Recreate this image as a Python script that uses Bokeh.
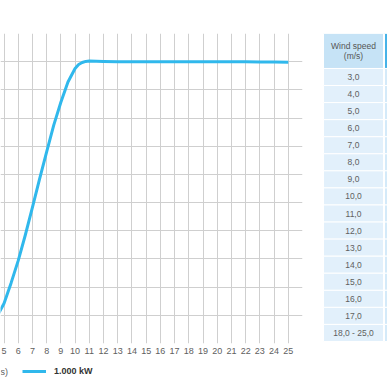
from bokeh.plotting import figure
from bokeh.models import Range1d, FixedTicker, Legend, LegendItem, ColumnDataSource, Label
from bokeh.layouts import row, column
from bokeh.embed import file_html
from bokeh.resources import INLINE
from bokeh.core.properties import value

# ---- data ----
wind = [3, 4, 4.5, 5, 5.5, 6, 6.5, 7, 7.5, 8, 8.5, 9, 9.5, 10, 10.25, 10.5, 10.75, 11,
        12, 13, 14, 15, 16, 17, 18, 19, 20, 21, 22, 23, 24, 25]
power = [0, 45, 95, 142, 215, 294, 385, 483, 583, 680, 775, 856, 928, 976, 990, 997, 1001, 1002,
         1001, 1000, 1000, 1000, 1000, 1000, 1000, 1000, 1000, 1000, 1000, 999, 999, 998]
x_ticks = list(range(5, 26))
x_grid = list(range(5, 27))
y_grid = list(range(0, 1101, 100))
series_label = "1.000 kW"
axis_tail = "s)"
table_header = "Wind speed\n(m/s)"
table_rows = ["3,0", "4,0", "5,0", "6,0", "7,0", "8,0", "9,0", "10,0", "11,0",
              "12,0", "13,0", "14,0", "15,0", "16,0", "17,0", "18,0 - 25,0"]

W = 387
H_TOP = 362          # chart + table block
H_LEG = W - H_TOP    # legend strip
LINE = "#30b8ec"
GRID = "#cfcfcf"
TOP, BOTTOM = 33, 19
FONT = "Liberation Sans"

# ---- power curve chart ----
p = figure(width=312, height=H_TOP, x_range=Range1d(4.7535, 26), y_range=Range1d(0, 1100),
           output_backend="svg", toolbar_location=None, y_axis_location=None,
           min_border_left=0, min_border_right=10, min_border_top=TOP,
           min_border_bottom=BOTTOM)
p.outline_line_color = None
p.xaxis.ticker = FixedTicker(ticks=x_ticks)
p.xaxis.axis_line_color = None
p.xaxis.major_tick_line_color = None
p.xaxis.minor_tick_line_color = None
p.xaxis.major_tick_out = 0
p.xaxis.major_tick_in = 0
p.xaxis.major_label_standoff = 4
p.xaxis.major_label_text_font_size = "9px"
p.xaxis.major_label_text_font = FONT
p.xaxis.major_label_text_color = "#606060"
p.xgrid.ticker = FixedTicker(ticks=x_grid)
p.ygrid.ticker = FixedTicker(ticks=y_grid)
p.grid.grid_line_color = GRID
p.grid.grid_line_width = 1

p.line(wind, power, line_color=LINE, line_width=3, line_join="round")

# ---- table ----
HEADER = 2.05
n = len(table_rows)
t = figure(width=W - 312, height=H_TOP, x_range=Range1d(-11 / 60, 64 / 60),
           y_range=Range1d(n + 2 / 17.06, -HEADER),
           output_backend="svg", toolbar_location=None,
           x_axis_location=None, y_axis_location=None,
           min_border_left=0, min_border_right=0, min_border_top=TOP,
           min_border_bottom=BOTTOM)
t.grid.visible = False
t.outline_line_color = None

t.quad(left=[0, 1.017], right=[1, 2], top=[-HEADER, -HEADER], bottom=[0, 0],
       fill_color=["#c6e3f6", "#45b2e8"], line_color="white", line_width=1)
idx = list(range(n))
src = ColumnDataSource(dict(top=idx, bottom=[i + 1 for i in idx],
                            mid=[i + 0.5 for i in idx], label=table_rows))
t.quad(left=0, right=1, top="top", bottom="bottom", source=src,
       fill_color="#e2f0fb", line_color="white", line_width=1)
t.quad(left=1.017, right=2, top="top", bottom="bottom", source=src,
       fill_color="#d4eaf9", line_color="white", line_width=1)
t.text(x=[0.5], y=[-HEADER / 2], text=[table_header], text_align="center",
       text_baseline="middle", text_font=value(FONT),
       text_font_size="8.5px", text_color="#555555", text_line_height=1.0)
t.text(x=0.5, y="mid", text="label", source=src, text_align="center",
       text_baseline="middle", text_font=value(FONT),
       text_font_size="8.5px", text_color="#606060")

# ---- legend strip (its series renderer lies far outside the strip's view) ----
lf = figure(width=W, height=H_LEG, x_range=Range1d(100, 101), y_range=Range1d(5000, 5001),
            output_backend="svg", toolbar_location=None,
            x_axis_location=None, y_axis_location=None, min_border=0)
lf.grid.visible = False
lf.outline_line_color = None
r2 = lf.line(wind, power, line_color=LINE, line_width=3)
legend = Legend(items=[LegendItem(label=series_label, renderers=[r2])],
                location=(22, 11), orientation="horizontal", padding=0, margin=0,
                border_line_color=None, background_fill_alpha=0,
                glyph_width=24, glyph_height=10, label_height=10, label_standoff=8,
                label_text_font_size="9px", label_text_font_style="bold",
                label_text_font=FONT, label_text_color="#333333")
lf.add_layout(legend)
lf.add_layout(Label(x=0, y=16, x_units="screen", y_units="screen", text=axis_tail,
                    text_font=FONT, text_font_size="9px", text_color="#606060",
                    text_baseline="middle", text_align="left"))

layout = column(row(p, t, spacing=0), lf, spacing=0)
open("out.html", "w").write(file_html(layout, INLINE))
